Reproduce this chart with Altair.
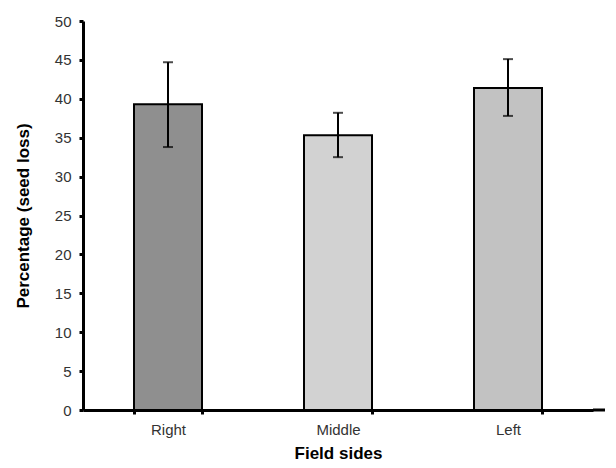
import altair as alt
import pandas as pd

sides = ["Right", "Middle", "Left"]
means = [39.3, 35.3, 41.4]
err_low = [33.8, 32.5, 37.8]
err_high = [44.7, 38.2, 45.1]
fills = ["#8f8f8f", "#d2d2d2", "#c2c2c2"]
y_ticks = [0, 5, 10, 15, 20, 25, 30, 35, 40, 45, 50]

df = pd.DataFrame({"side": sides, "mean": means, "lo": err_low, "hi": err_high, "fill": fills})

FONT = "Liberation Sans"

x_scale = alt.Scale(paddingInner=0.6, paddingOuter=0.3)
y_scale = alt.Scale(domain=[0, 50], nice=False)

x = alt.X("side:N", sort=sides, title="Field sides", scale=x_scale,
          axis=alt.Axis(labelAngle=0, tickBand="extent", labelPadding=8, titlePadding=8))
y = alt.Y("mean:Q", title="Percentage (seed loss)", scale=y_scale,
          axis=alt.Axis(values=y_ticks, labelOverlap=False, labelPadding=8, titlePadding=22))

base = alt.Chart(df).encode(x=x)

bars = base.mark_bar(stroke="#000000", strokeWidth=2).encode(
    y=y, fill=alt.Fill("fill:N", scale=None))

rules = base.mark_rule(color="#000000", strokeWidth=2).encode(
    y=alt.Y("lo:Q", axis=None), y2="hi:Q")
cap_hi = base.mark_tick(color="#000000", thickness=2, size=10).encode(
    y=alt.Y("hi:Q", axis=None))
cap_lo = base.mark_tick(color="#000000", thickness=2, size=10).encode(
    y=alt.Y("lo:Q", axis=None))

ext = alt.Chart(pd.DataFrame({"v": [0]})).mark_rule(color="#000000", strokeWidth=3).encode(
    x=alt.value(510), x2=alt.value(522), y=alt.value(389))

chart = alt.layer(bars, rules, cap_hi, cap_lo, ext).resolve_axis(
    y="independent"
).resolve_scale(
    y="shared"
).properties(
    width=510, height=389, background="#ffffff",
    padding={"left": 6, "top": 6, "right": 0, "bottom": 0}
).configure_view(stroke=None).configure_axis(
    labelFont=FONT, labelColor="#333333", labelFontSize=15,
    titleFont=FONT, titleFontWeight="bold", titleColor="#000000", titleFontSize=17,
    domainColor="#000000", domainWidth=3, tickColor="#000000", tickWidth=3, tickSize=4,
    grid=False
)

chart.save("out.html", embed_options={"renderer": "svg", "actions": False})
